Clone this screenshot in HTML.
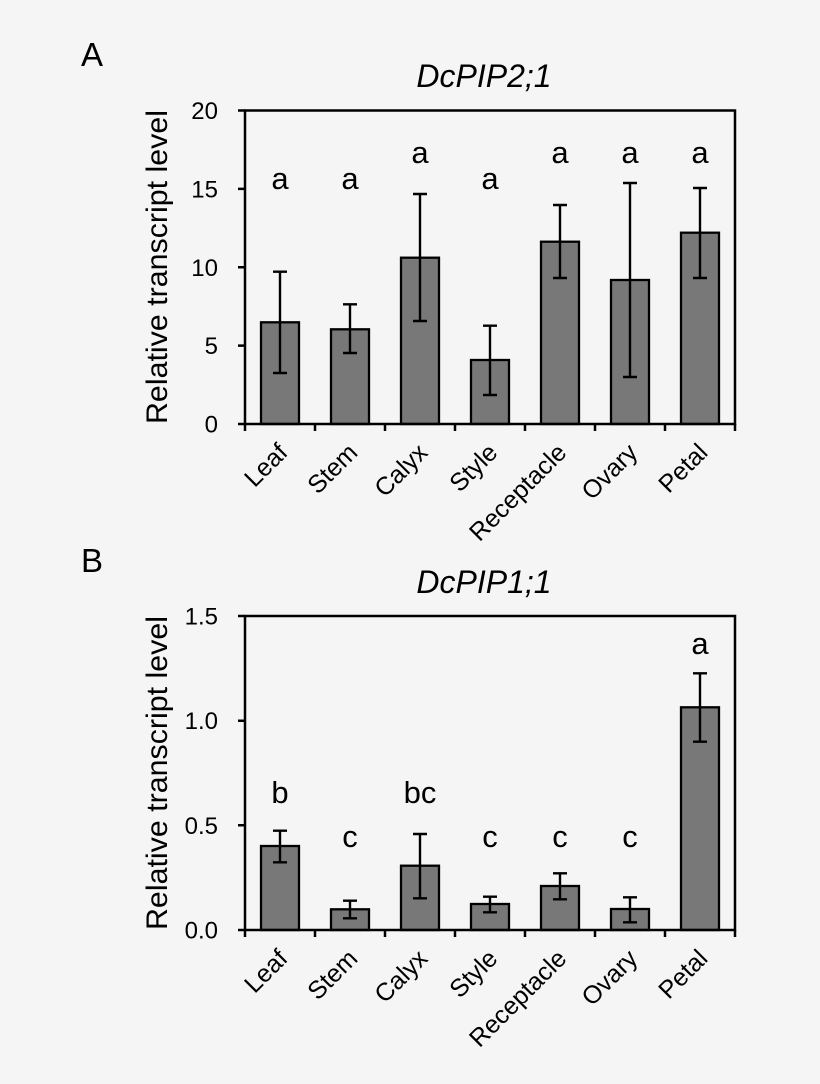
<!DOCTYPE html>
<html>
<head>
<meta charset="utf-8">
<style>
  html, body { margin: 0; padding: 0; background: #f5f5f5; }
  svg { display: block; }
  text { font-family: "Liberation Sans", Arial, sans-serif; fill: #000; }
</style>
</head>
<body>
<svg width="820" height="1084" viewBox="0 0 820 1084" xmlns="http://www.w3.org/2000/svg">
  <rect x="0" y="0" width="820" height="1084" fill="#f5f5f5"/>

  <!-- ================= PANEL A ================= -->
  <g id="panelA">
    <text x="81" y="66" font-size="33">A</text>
    <text x="484" y="87" font-size="32" font-style="italic" text-anchor="middle">DcPIP2;1</text>

    <text transform="translate(167,267) rotate(-90)" font-size="30" text-anchor="middle" textLength="314" lengthAdjust="spacingAndGlyphs">Relative transcript level</text>

    <g font-size="24" text-anchor="end">
      <text x="218" y="119">20</text>
      <text x="218" y="197.4">15</text>
      <text x="218" y="275.8">10</text>
      <text x="218" y="354.1">5</text>
      <text x="218" y="432.5">0</text>
    </g>

    <g fill="#787878" stroke="#000" stroke-width="2.3">
      <rect x="261" y="322.3" width="38" height="101.7"/>
      <rect x="331" y="329.3" width="38" height="94.7"/>
      <rect x="401" y="257.7" width="38" height="166.3"/>
      <rect x="471" y="360" width="38" height="64"/>
      <rect x="541" y="241.7" width="38" height="182.3"/>
      <rect x="611" y="280" width="38" height="144"/>
      <rect x="681" y="232.7" width="38" height="191.3"/>
    </g>

    <g stroke="#000" stroke-width="2.4" fill="none">
      <path d="M280 271.7V373M273 271.7H287M273 373H287"/>
      <path d="M350 304.3V353M343 304.3H357M343 353H357"/>
      <path d="M420 194V321M413 194H427M413 321H427"/>
      <path d="M490 325.7V395M483 325.7H497M483 395H497"/>
      <path d="M560 205V278M553 205H567M553 278H567"/>
      <path d="M630 183V377M623 183H637M623 377H637"/>
      <path d="M700 188V278M693 188H707M693 278H707"/>
    </g>

    <g stroke="#000" stroke-width="2.5" fill="none">
      <rect x="245" y="110.5" width="490" height="313.5"/>
      <path d="M238 110.5H245M238 188.9H245M238 267.3H245M238 345.6H245M238 424H245"/>
      <path d="M245 424V431M315 424V431M385 424V431M455 424V431M525 424V431M595 424V431M665 424V431M735 424V431"/>
    </g>

    <g font-size="31" text-anchor="middle">
      <text x="280" y="189">a</text>
      <text x="350" y="189">a</text>
      <text x="420" y="163">a</text>
      <text x="490" y="189">a</text>
      <text x="560" y="163">a</text>
      <text x="630" y="163">a</text>
      <text x="700" y="163">a</text>
    </g>

    <g font-size="25" text-anchor="end">
      <text transform="translate(289,454) rotate(-45)">Leaf</text>
      <text transform="translate(359,454) rotate(-45)">Stem</text>
      <text transform="translate(429,454) rotate(-45)">Calyx</text>
      <text transform="translate(499,454) rotate(-45)">Style</text>
      <text transform="translate(568,454) rotate(-45)">Receptacle</text>
      <text transform="translate(639,454) rotate(-45)">Ovary</text>
      <text transform="translate(709,454) rotate(-45)">Petal</text>
    </g>
  </g>

  <!-- ================= PANEL B ================= -->
  <g id="panelB">
    <text x="81" y="572" font-size="33">B</text>
    <text x="484" y="593" font-size="32" font-style="italic" text-anchor="middle">DcPIP1;1</text>

    <text transform="translate(167,773) rotate(-90)" font-size="30" text-anchor="middle" textLength="314" lengthAdjust="spacingAndGlyphs">Relative transcript level</text>

    <g font-size="24" text-anchor="end">
      <text x="218" y="624.5">1.5</text>
      <text x="218" y="729.2">1.0</text>
      <text x="218" y="833.8">0.5</text>
      <text x="218" y="938.5">0.0</text>
    </g>

    <g fill="#787878" stroke="#000" stroke-width="2.3">
      <rect x="261" y="846" width="38" height="84"/>
      <rect x="331" y="909.3" width="38" height="20.7"/>
      <rect x="401" y="865.7" width="38" height="64.3"/>
      <rect x="471" y="904" width="38" height="26"/>
      <rect x="541" y="886" width="38" height="44"/>
      <rect x="611" y="909" width="38" height="21"/>
      <rect x="681" y="707.3" width="38" height="222.7"/>
    </g>

    <g stroke="#000" stroke-width="2.4" fill="none">
      <path d="M280 830.7V862.3M273 830.7H287M273 862.3H287"/>
      <path d="M350 900.7V918.3M343 900.7H357M343 918.3H357"/>
      <path d="M420 834V898.3M413 834H427M413 898.3H427"/>
      <path d="M490 896.7V912.3M483 896.7H497M483 912.3H497"/>
      <path d="M560 873.3V899.3M553 873.3H567M553 899.3H567"/>
      <path d="M630 897.3V922.3M623 897.3H637M623 922.3H637"/>
      <path d="M700 673.3V741.7M693 673.3H707M693 741.7H707"/>
    </g>

    <g stroke="#000" stroke-width="2.5" fill="none">
      <rect x="245" y="616" width="490" height="314"/>
      <path d="M238 616H245M238 720.7H245M238 825.3H245M238 930H245"/>
      <path d="M245 930V937M315 930V937M385 930V937M455 930V937M525 930V937M595 930V937M665 930V937M735 930V937"/>
    </g>

    <g font-size="31" text-anchor="middle">
      <text x="280" y="803">b</text>
      <text x="350" y="847">c</text>
      <text x="420" y="803">bc</text>
      <text x="490" y="847">c</text>
      <text x="560" y="847">c</text>
      <text x="630" y="847">c</text>
      <text x="700" y="654">a</text>
    </g>

    <g font-size="25" text-anchor="end">
      <text transform="translate(289,960) rotate(-45)">Leaf</text>
      <text transform="translate(359,960) rotate(-45)">Stem</text>
      <text transform="translate(429,960) rotate(-45)">Calyx</text>
      <text transform="translate(499,960) rotate(-45)">Style</text>
      <text transform="translate(568,960) rotate(-45)">Receptacle</text>
      <text transform="translate(639,960) rotate(-45)">Ovary</text>
      <text transform="translate(709,960) rotate(-45)">Petal</text>
    </g>
  </g>
</svg>
</body>
</html>
